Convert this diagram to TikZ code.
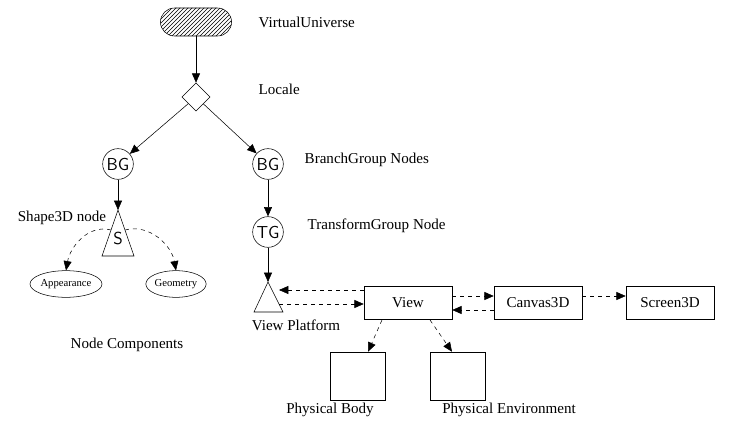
\documentclass[tikz,border=0pt]{standalone}
\usepackage{fontspec}
\setmainfont{Liberation Serif}
\usetikzlibrary{shapes.geometric,shapes.misc,patterns,arrows.meta}
\begin{document}
\begin{tikzpicture}[x=0.75pt,y=-0.75pt,
  lbl/.style={font=\fontsize{11.3}{13}\selectfont},
  circ/.style={circle,draw,minimum size=23pt,inner sep=0pt,font=\fontsize{13}{14}\sffamily},
  box/.style={rectangle,draw,minimum width=66pt,minimum height=25pt,font=\fontsize{11.3}{13}\selectfont},
  pbox/.style={rectangle,draw,minimum width=41pt,minimum height=36pt},
  ell/.style={ellipse,draw,inner sep=0pt,font=\fontsize{8}{9}\selectfont},
  arr/.style={-{Triangle[length=7pt,width=6pt]}},
  darr/.style={dashed,-{Triangle[length=7pt,width=6pt]}}]
\useasboundingbox (0,0) rectangle (740,428);
\node[rounded rectangle,draw,pattern=north east lines,minimum width=60pt,minimum height=21pt] (vu) at (196,22) {};
\node[lbl,anchor=west] (vul) at (254,22) {VirtualUniverse};
\node[diamond,draw,minimum size=21pt,inner sep=0pt] (loc) at (196,97) {};
\node[lbl,anchor=west] (locl) at (254,89) {Locale};
\node[circ] (bg1) at (118,164) {BG};
\node[circ] (bg2) at (268,164) {BG};
\node[lbl,anchor=west] (bgl) at (300,160) {BranchGroup Nodes};
\coordinate (sa) at (118,210);
\draw (sa) -- (102,256) -- (134,256) -- cycle;
\node[font=\fontsize{13}{14}\sffamily] (s) at (118,238) {S};
\node[lbl] (sl) at (62,218) {Shape3D node};
\node[ell,minimum width=48pt,minimum height=20pt] (app) at (66,284) {Appearance};
\node[ell,minimum width=45pt,minimum height=20pt] (geo) at (176,284) {Geometry};
\node[lbl] (ncl) at (127,345) {Node Components};
\node[circ] (tg) at (268,232) {TG};
\node[lbl,anchor=west] (tgl) at (303,226) {TransformGroup Node};
\coordinate (va) at (268,282);
\draw (va) -- (254,312) -- (283,312) -- cycle;
\node[lbl] (vpl) at (296,325) {View Platform};
\node[box] (view) at (408,303) {View};
\node[box] (can) at (538,303) {Canvas3D};
\node[box] (scr) at (670,303) {Screen3D};
\node[pbox] (pb) at (358,376) {};
\node[pbox] (pe) at (458,376) {};
\node[lbl] (pbl) at (330,410) {Physical Body};
\node[lbl] (pel) at (509,410) {Physical Environment};
\draw[arr] (vu) -- (loc);
\draw[arr] (loc) -- (bg1);
\draw[arr] (loc) -- (bg2);
\draw[arr] (bg1) -- (sa);
\draw[arr] (bg2) -- (tg);
\draw[arr] (tg) -- (va);
\coordinate (sl1) at (111,230);
\coordinate (sr1) at (125,230);
\draw[darr] (sl1) to[out=165,in=80] (app.north);
\draw[darr] (sr1) to[out=15,in=100] (geo.north);
\draw[darr] (view.west |- 0,290) -- (279,290);
\draw[darr] (279,304) -- (view.west |- 0,304);
\draw[darr] (view.east |- 0,296) -- (can.west |- 0,296);
\draw[darr] (can.west |- 0,310) -- (view.east |- 0,310);
\draw[darr] (can.east |- 0,296) -- (scr.west |- 0,296);
\draw[darr] (382,320) -- (pb.north -| 368,0);
\draw[darr] (430,320) -- (pe.north -| 452,0);
\end{tikzpicture}
\end{document}
